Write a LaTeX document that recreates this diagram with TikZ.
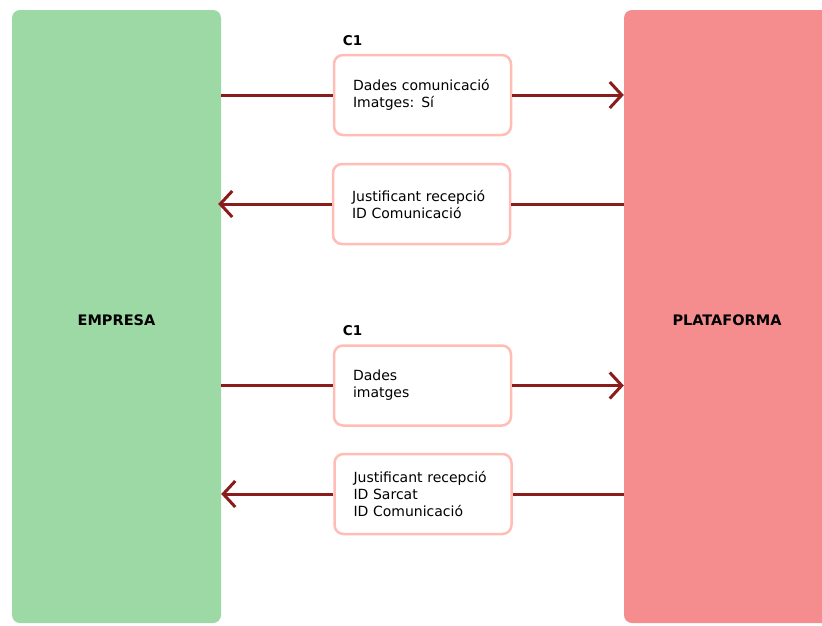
\documentclass[tikz,border=0pt]{standalone}
\usepackage{fontspec}
\setmainfont{DejaVu Sans}
\usetikzlibrary{arrows.meta, positioning, calc}
\definecolor{verdet}{RGB}{157,217,164}
\definecolor{rosat}{RGB}{245,141,143}
\definecolor{vora}{RGB}{255,189,182}
\definecolor{granat}{RGB}{139,28,28}
\tikzset{
  actor/.style={rounded corners=8pt, minimum width=209pt, minimum height=613pt, text height=18.5pt, font=\bfseries\fontsize{14.5}{16}\selectfont},
  missatge/.style={draw=vora, line width=2.5pt, rounded corners=9pt, fill=white, minimum width=177pt, minimum height=80pt, text width=139pt, inner xsep=19pt, align=left, font=\fontsize{14}{17}\selectfont},
  etiqueta/.style={anchor=south west, inner sep=0pt, font=\bfseries\fontsize{13.5}{15}\selectfont},
  fletxa/.style={granat, line width=3pt},
  >={Straight Barb[length=12pt, width=26pt, line width=3pt]}
}
\begin{document}
\begin{tikzpicture}[x=1pt, y=-1pt]
        \useasboundingbox (0,0) rectangle (822,625);

        % Actors
        \node[actor, fill=verdet] (empresa) at (116.5,316.5) {EMPRESA};
        \node[actor, fill=rosat, minimum width=206pt] (plataforma) at (727,316.5) {PLATAFORMA};

        % Messages
        \node[missatge] (m1) at (422.5,95) {Dades comunicació\\Imatges: Sí};
        \node[missatge] (m2) at (421.5,204) {Justificant recepció\\ID Comunicació};
        \node[missatge] (m3) at (422.5,385.5) {Dades\\imatges};
        \node[missatge] (m4) at (423,494) {Justificant recepció\\ID Sarcat\\ID Comunicació};

        % C1 labels
        \node[etiqueta] (c1a) at ([xshift=10pt,yshift=8pt]m1.north west) {C1};
        \node[etiqueta] (c1b) at ([xshift=10pt,yshift=8pt]m3.north west) {C1};

        % Arrows
        \draw[fletxa] (empresa.east |- m1.west) -- (m1.west);
        \draw[fletxa,->] (m1.east) -- (plataforma.west |- m1.east);
        \draw[fletxa] (plataforma.west |- m2.east) -- (m2.east);
        \draw[fletxa,->] (m2.west) -- ([xshift=-3pt]empresa.east |- m2.west);
        \draw[fletxa] (empresa.east |- m3.west) -- (m3.west);
        \draw[fletxa,->] (m3.east) -- (plataforma.west |- m3.east);
        \draw[fletxa] (plataforma.west |- m4.east) -- (m4.east);
        \draw[fletxa,->] (m4.west) -- (empresa.east |- m4.west);
      \end{tikzpicture}
\end{document}
